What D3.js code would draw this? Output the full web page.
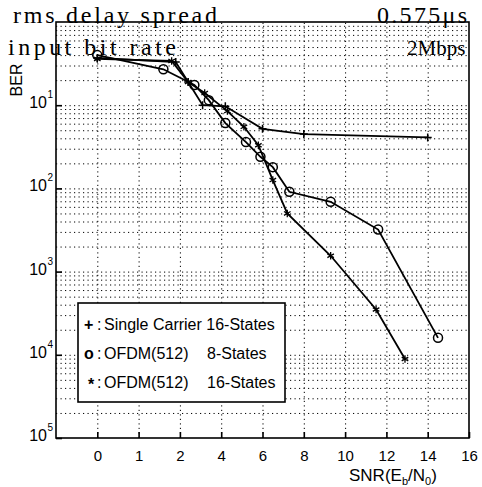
<!DOCTYPE html>
<html>
<head>
<meta charset="utf-8">
<script src="https://cdn.jsdelivr.net/npm/d3@7"></script>
<style>
  body { margin: 0; background: #fff; }
  svg { display: block; }
  .grid line { stroke: #000; stroke-width: 1; stroke-dasharray: 1.2,3.3; }
  .grid path { display: none; }
  .serif { font-family: "Liberation Serif", "DejaVu Serif", serif; fill: #000; }
  .sans { font-family: "Liberation Sans", Arial, sans-serif; fill: #000; }
</style>
</head>
<body>
<div id="chart"></div>
<script>
// tick labels on x (the axis is labelled unevenly, kept as printed)
var xTicks = [0, 1, 2, 4, 6, 8, 10, 12, 14, 16];
var yDecades = [-1, -2, -3, -4, -5];

// single carrier 16-states (+)
var scX = [0, 1.9, 2.4, 3.1, 4.2, 6.0, 8.0, 14.0];
var scY = [0.37, 0.33, 0.19, 0.10, 0.097, 0.052, 0.045, 0.041];

// OFDM(512) 8-states (o)
var o8X = [0, 1.6, 2.7, 3.4, 4.2, 5.2, 5.9, 6.5, 7.3, 9.3, 11.6, 14.5];
var o8Y = [0.40, 0.27, 0.175, 0.115, 0.061, 0.036, 0.024, 0.018, 0.0091, 0.0069, 0.0032, 0.00016];

// OFDM(512) 16-states (*)
var o16X = [0, 1.8, 2.4, 3.2, 4.3, 5.1, 5.8, 6.5, 7.2, 9.3, 11.5, 12.9];
var o16Y = [0.36, 0.34, 0.19, 0.14, 0.085, 0.055, 0.033, 0.0126, 0.005, 0.00155, 0.00035, 0.000089];

var width = 482, height = 487;
var L = 56, R = 469, T = 22, B = 438;

var svg = d3.select("#chart").append("svg")
    .attr("width", width)
    .attr("height", height);

// x axis has one step left of the first label, evenly spaced positions
var xDomain = [-1].concat(xTicks);
var x = d3.scaleLinear()
    .domain(xDomain)
    .range(xDomain.map(function(d, i) { return L + i * (R - L) / (xDomain.length - 1); }));

var y = d3.scaleLog().domain([1e-5, 1]).range([B, T]);

// dotted grid
svg.append("g")
    .attr("class", "grid")
    .attr("transform", "translate(0," + B + ")")
    .call(d3.axisBottom(x).tickValues(xTicks.slice(0, -1)).tickSize(-(B - T)).tickFormat(""));

svg.append("g")
    .attr("class", "grid")
    .attr("transform", "translate(" + L + ",0)")
    .call(d3.axisLeft(y).tickValues(y.ticks().filter(function(d) { return d > 1e-5 && d < 1; }))
      .tickSize(-(R - L)).tickFormat(""));

// frame
svg.append("rect")
    .attr("x", L).attr("y", T)
    .attr("width", R - L).attr("height", B - T)
    .attr("fill", "none").attr("stroke", "#000").attr("stroke-width", 1.6);

// inward ticks
var xAxis = svg.append("g")
    .attr("transform", "translate(0," + B + ")")
    .call(d3.axisBottom(x).tickValues(xTicks).tickSizeInner(-6).tickSizeOuter(0));
xAxis.select(".domain").remove();
xAxis.selectAll("line").attr("stroke-width", 1.6);
xAxis.selectAll("text")
    .style("font-size", "15px")
    .style("font-family", "'Liberation Sans', Arial, sans-serif")
    .attr("fill", "#000")
    .attr("y", 12);

var yAxis = svg.append("g")
    .attr("transform", "translate(" + L + ",0)")
    .call(d3.axisLeft(y).tickValues(yDecades.map(function(e) { return Math.pow(10, e); }))
      .tickSizeInner(-6).tickSizeOuter(0).tickFormat(""));
yAxis.select(".domain").remove();
yAxis.selectAll("line").attr("stroke-width", 1.6);

// y tick labels 10^n
yDecades.forEach(function(e) {
  var yy = y(Math.pow(10, e));
  svg.append("text").attr("class", "sans").style("font-size", "16px")
      .attr("x", 47).attr("y", yy + 3).attr("text-anchor", "end").text("10");
  svg.append("text").attr("class", "sans").style("font-size", "10px")
      .attr("x", 47.5).attr("y", yy - 7).text(String(-e));
});

// axis titles
svg.append("text")
    .attr("class", "sans")
    .attr("transform", "translate(22,80) rotate(-90)")
    .attr("text-anchor", "middle")
    .style("font-size", "16px")
    .text("BER");

var snr = svg.append("text").attr("class", "sans").attr("x", 349).attr("y", 481).style("font-size", "17px");
snr.append("tspan").text("SNR(E");
snr.append("tspan").attr("dy", 4).style("font-size", "11px").text("b");
snr.append("tspan").attr("dy", -4).text("/N");
snr.append("tspan").attr("dy", 4).style("font-size", "11px").text("0");
snr.append("tspan").attr("dy", -4).text(")");

// series lines
function toPts(xs, ys) { return xs.map(function(d, i) { return [d, ys[i]]; }); }
var line = d3.line().x(function(d) { return x(d[0]); }).y(function(d) { return y(d[1]); });

var series = [
  {pts: toPts(scX, scY), mark: "plus"},
  {pts: toPts(o8X, o8Y), mark: "circle"},
  {pts: toPts(o16X, o16Y), mark: "star"}
];

series.forEach(function(s) {
  svg.append("path")
      .datum(s.pts)
      .attr("d", line)
      .attr("fill", "none")
      .attr("stroke", "#000")
      .attr("stroke-width", 1.8);

  var g = svg.append("g");
  s.pts.forEach(function(p) {
    var cx = x(p[0]), cy = y(p[1]);
    if (s.mark === "circle") {
      g.append("circle").attr("cx", cx).attr("cy", cy).attr("r", 4.5)
        .attr("fill", "none").attr("stroke", "#000").attr("stroke-width", 1.5);
    } else if (s.mark === "plus") {
      g.append("path").attr("d", "M" + (cx - 4) + "," + cy + "H" + (cx + 4) + "M" + cx + "," + (cy - 4) + "V" + (cy + 4))
        .attr("stroke", "#000").attr("stroke-width", 1.5);
    } else {
      g.append("path").attr("d", d3.symbol(d3.symbolAsterisk, 40)())
        .attr("transform", "translate(" + cx + "," + cy + ")")
        .attr("stroke", "#000").attr("stroke-width", 1.3);
    }
  });
});

// legend
var lg = svg.append("g");
lg.append("rect")
    .attr("x", 78).attr("y", 303).attr("width", 207).attr("height", 99)
    .attr("fill", "#fff").attr("stroke", "#000").attr("stroke-width", 1.6);

var legendRows = [
  {sym: "+", a: "Single Carrier 16-States", b: ""},
  {sym: "o", a: "OFDM(512)", b: "8-States"},
  {sym: "*", a: "OFDM(512)", b: "16-States"}
];
legendRows.forEach(function(r, i) {
  var yy = 330 + i * 29;
  lg.append("text").attr("class", "sans").style("font-size", "16px").style("font-weight", "bold")
      .attr("x", r.sym === "*" ? 88 : 84).attr("y", r.sym === "*" ? yy + 2 : yy).text(r.sym);
  lg.append("text").attr("class", "sans").style("font-size", "16px")
      .attr("x", 97).attr("y", yy).text(":");
  lg.append("text").attr("class", "sans").style("font-size", "16px")
      .attr("x", 104).attr("y", yy).text(r.a);
  if (r.b) {
    lg.append("text").attr("class", "sans").style("font-size", "16px")
        .attr("x", 207).attr("y", yy).text(r.b);
  }
});

// annotation texts at top (serif, widely spaced)
function note(txt, xx, yy, len, size) {
  var t = svg.append("text").attr("class", "serif")
      .attr("x", xx).attr("y", yy)
      .style("font-size", size + "px")
      .text(txt);
  if (len) t.attr("textLength", len).attr("lengthAdjust", "spacing");
}
note("rms delay spread", 13, 23, 204, 24);
note("0.575\u03bcs", 377, 23, 90, 24);
note("input bit rate", 8, 55, 168, 24);
note("2Mbps", 407, 55, null, 21);
</script>
</body>
</html>
